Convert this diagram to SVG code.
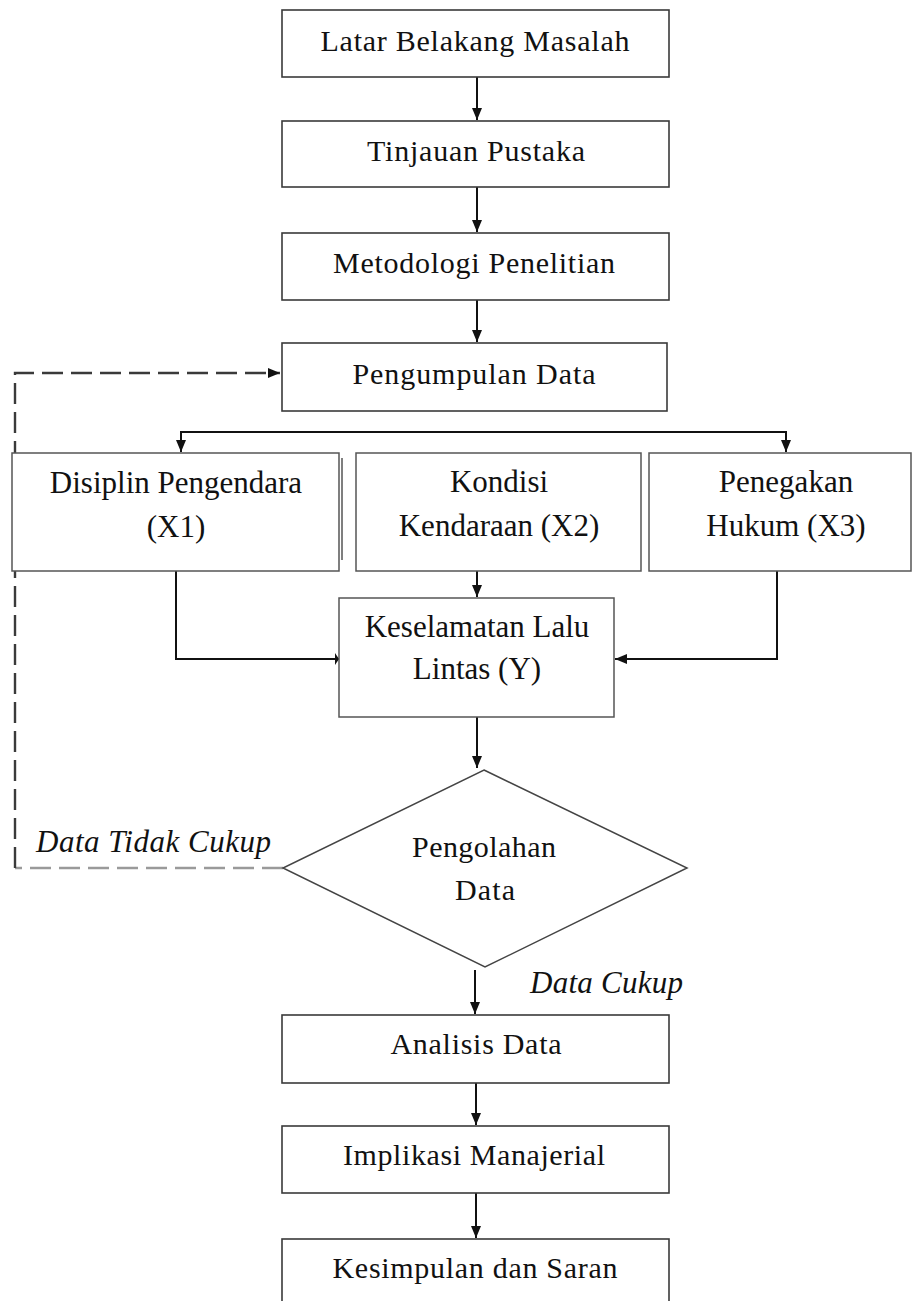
<svg xmlns="http://www.w3.org/2000/svg" width="912" height="1301" viewBox="0 0 912 1301">
<style>
.box{fill:#fff;stroke:#3a3a3a;stroke-width:1.6}
.gbox{fill:#fff;stroke:#555;stroke-width:1.5}
.t1{font-family:"Liberation Serif","Times New Roman",serif;font-size:30px;fill:#111;text-anchor:middle}
.t2{font-family:"Liberation Serif","Times New Roman",serif;font-size:31px;fill:#111;text-anchor:middle}
.ti{font-family:"Liberation Serif","Times New Roman",serif;font-size:31px;font-style:italic;fill:#111}
.c{fill:none;stroke:#111;stroke-width:2}
.d{fill:none;stroke-width:2.4;stroke-dasharray:21 8}
</style>
<defs>
<marker id="ah" markerUnits="userSpaceOnUse" markerWidth="14" markerHeight="14" viewBox="0 0 14 14" refX="13" refY="7" orient="auto">
<path d="M1,2 L13,7 L1,12 Z" fill="#111"/>
</marker>
<marker id="ahs" markerUnits="userSpaceOnUse" markerWidth="14" markerHeight="14" viewBox="0 0 14 14" refX="13" refY="7" orient="auto">
<path d="M9,1 L13,7 L9,13 Z" fill="#111"/>
</marker>
</defs>
<g id="connectors">
<path class="c" d="M477,77 V120" marker-end="url(#ah)"/>
<path class="c" d="M477,187 V232" marker-end="url(#ah)"/>
<path class="c" d="M477,300 V342" marker-end="url(#ah)"/>
<path class="c" d="M181,452 V432 H786 V452" />
<path class="c" d="M181,432 V452" marker-end="url(#ah)"/>
<path class="c" d="M786,432 V452" marker-end="url(#ah)"/>
<path class="c" d="M477,571 V597" marker-end="url(#ah)"/>
<path class="c" d="M176,571 V659 H339" marker-end="url(#ahs)"/>
<path class="c" d="M777,571 V659 H615" marker-end="url(#ah)"/>
<path class="c" d="M477,717 V768" marker-end="url(#ah)"/>
<path class="c" d="M475,970 V1014" marker-end="url(#ah)"/>
<path class="c" d="M476,1083 V1125" marker-end="url(#ah)"/>
<path class="c" d="M476,1193 V1238" marker-end="url(#ah)"/>
<path class="d" stroke="#9a9a9a" d="M283,868 H15"/>
<path class="d" stroke="#3a3a3a" d="M15,868 V373 H280" marker-end="url(#ah)"/>
</g>
<g id="n1"><rect class="box" x="282" y="10" width="387" height="67"/><text class="t1" x="475" y="51" textLength="309" lengthAdjust="spacing">Latar Belakang Masalah</text></g>
<g id="n2"><rect class="box" x="282" y="121" width="387" height="66"/><text class="t1" x="476" y="161" textLength="218" lengthAdjust="spacing">Tinjauan Pustaka</text></g>
<g id="n3"><rect class="box" x="282" y="233" width="387" height="67"/><text class="t1" x="474" y="273" textLength="282" lengthAdjust="spacing">Metodologi Penelitian</text></g>
<g id="n4"><rect class="box" x="282" y="343" width="385" height="68"/><text class="t1" x="474" y="384" textLength="243" lengthAdjust="spacing">Pengumpulan Data</text></g>
<g id="x1"><rect class="gbox" x="12" y="453" width="327" height="118"/><line x1="342" y1="458" x2="342" y2="560" stroke="#555" stroke-width="1.5"/><text class="t2" x="176" y="493">Disiplin Pengendara</text><text class="t2" x="176" y="537">(X1)</text></g>
<g id="x2"><rect class="gbox" x="356" y="453" width="285" height="118"/><text class="t2" x="499" y="492">Kondisi</text><text class="t2" x="499" y="536">Kendaraan (X2)</text></g>
<g id="x3"><rect class="gbox" x="649" y="453" width="262" height="118"/><text class="t2" x="786" y="492">Penegakan</text><text class="t2" x="786" y="536">Hukum (X3)</text></g>
<g id="y"><rect class="gbox" x="339" y="598" width="275" height="119"/><text class="t2" x="477" y="637">Keselamatan Lalu</text><text class="t2" x="477" y="679">Lintas (Y)</text></g>
<g id="dec"><path d="M484,770 L687,868 L485,967 L283,868 Z" fill="#fff" stroke="#444" stroke-width="1.5"/><text class="t1" x="484" y="857" textLength="144" lengthAdjust="spacing">Pengolahan</text><text class="t1" x="485" y="900" textLength="60" lengthAdjust="spacing">Data</text></g>
<text class="ti" x="36" y="852" textLength="235" lengthAdjust="spacing">Data Tidak Cukup</text>
<text class="ti" x="530" y="993" textLength="153" lengthAdjust="spacing">Data Cukup</text>
<g id="n5"><rect class="box" x="282" y="1015" width="387" height="68"/><text class="t1" x="476" y="1054" textLength="171" lengthAdjust="spacing">Analisis Data</text></g>
<g id="n6"><rect class="box" x="282" y="1126" width="387" height="67"/><text class="t1" x="474" y="1165" textLength="262" lengthAdjust="spacing">Implikasi Manajerial</text></g>
<g id="n7"><rect class="box" x="282" y="1239" width="387" height="80"/><text class="t1" x="475" y="1278" textLength="285" lengthAdjust="spacing">Kesimpulan dan Saran</text></g>
</svg>
